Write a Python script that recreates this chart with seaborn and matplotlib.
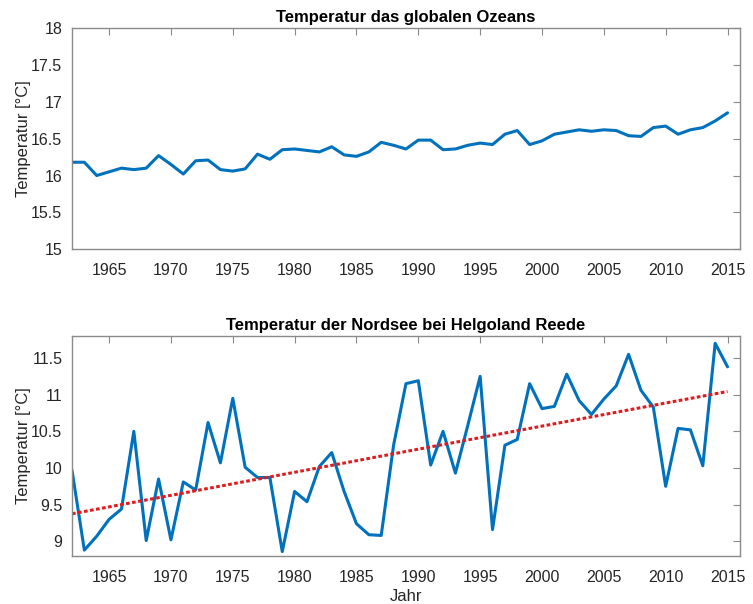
import numpy as np
import pandas as pd
import matplotlib
matplotlib.use('Agg')
import matplotlib.pyplot as plt
from matplotlib.ticker import FormatStrFormatter
import seaborn as sns

# Data
years = list(range(1962, 2016))

ozean_temp = [16.18, 16.18, 16.00, 16.05, 16.10, 16.08, 16.10, 16.27, 16.15, 16.02,
              16.20, 16.21, 16.08, 16.06, 16.09, 16.29, 16.22, 16.35, 16.36, 16.34,
              16.32, 16.39, 16.28, 16.26, 16.32, 16.45, 16.41, 16.36, 16.48, 16.48,
              16.35, 16.36, 16.41, 16.44, 16.42, 16.56, 16.61, 16.42, 16.47, 16.56,
              16.59, 16.62, 16.60, 16.62, 16.61, 16.54, 16.53, 16.65, 16.67, 16.56,
              16.62, 16.65, 16.74, 16.85]

nordsee_temp = [9.97, 8.88, 9.07, 9.30, 9.44, 10.50, 9.01, 9.85, 9.02, 9.81,
                9.70, 10.62, 10.07, 10.95, 10.01, 9.87, 9.87, 8.86, 9.68, 9.54,
                10.02, 10.21, 9.68, 9.24, 9.09, 9.08, 10.31, 11.15, 11.19, 10.04,
                10.50, 9.93, 10.58, 11.25, 9.16, 10.31, 10.39, 11.15, 10.81, 10.84,
                11.28, 10.92, 10.73, 10.94, 11.12, 11.55, 11.06, 10.83, 9.75, 10.54,
                10.52, 10.03, 11.70, 11.38]

titles = ['Temperatur das globalen Ozeans', 'Temperatur der Nordsee bei Helgoland Reede']

df_ozean = pd.DataFrame({'Jahr': years, 'Temp': ozean_temp})
df_nord = pd.DataFrame({'Jahr': years, 'Temp': nordsee_temp})

# linear trend for the North Sea series
coef = np.polyfit(df_nord['Jahr'], df_nord['Temp'], 1)
df_trend = pd.DataFrame({'Jahr': [years[0], years[-1]]})
df_trend['Temp'] = np.polyval(coef, df_trend['Jahr'])

sns.set_style('white')
plt.rcParams['font.family'] = ['Liberation Sans', 'DejaVu Sans']

blue = '#0072BD'
spine_col = '#8a8a8a'
text_col = '#262626'

fig = plt.figure(figsize=(7.53, 6.04), dpi=100)
ax1 = fig.add_axes([0.0956, 0.5873, 0.887, 0.3663])
ax2 = fig.add_axes([0.0956, 0.0795, 0.887, 0.3642])

sns.lineplot(data=df_ozean, x='Jahr', y='Temp', ax=ax1, color=blue, linewidth=2.2)
sns.lineplot(data=df_nord, x='Jahr', y='Temp', ax=ax2, color=blue, linewidth=2.2)
sns.lineplot(data=df_trend, x='Jahr', y='Temp', ax=ax2, color='#e31a1c',
             linewidth=2.2, dashes=False)
ax2.lines[-1].set_dashes((1.2, 0.8))

ax1.set_ylim(15, 18)
ax1.set_yticks(np.arange(15, 18.01, 0.5))
ax2.set_ylim(8.8, 11.8)
ax2.set_yticks(np.arange(9, 11.51, 0.5))

for ax, title in zip([ax1, ax2], titles):
    ax.set_xlim(1962, 2016)
    ax.set_xticks(range(1965, 2016, 5))
    ax.yaxis.set_major_formatter(FormatStrFormatter('%g'))
    ax.set_title(title, fontsize=12, fontweight='bold', color='black', pad=4)
    ax.set_ylabel('Temperatur [°C]', fontsize=12, color=text_col, labelpad=0)
    ax.set_xlabel('')
    ax.tick_params(direction='in', length=5, width=0.8, colors=spine_col,
                   labelcolor=text_col, labelsize=11.5, top=True, right=True)
    ax.tick_params(axis='x', pad=10)
    ax.tick_params(axis='y', pad=7)
    for s in ax.spines.values():
        s.set_color(spine_col)
        s.set_linewidth(1.0)

ax2.set_xlabel('Jahr', fontsize=12, color=text_col, labelpad=3)

fig.savefig('out.png', dpi=100, facecolor='white')
